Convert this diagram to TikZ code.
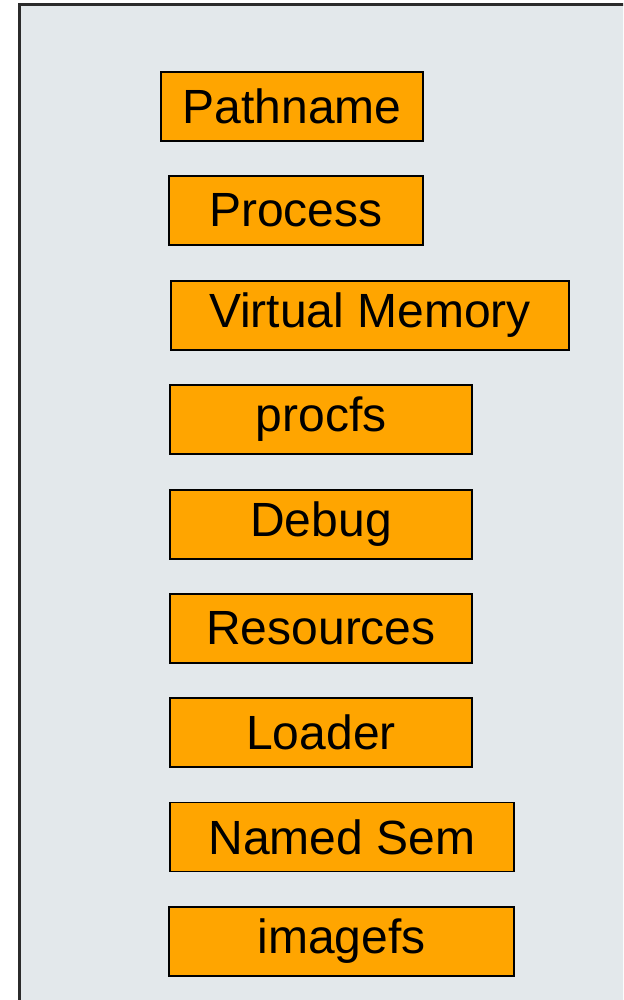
\documentclass[tikz,border=0pt]{standalone}
\usepackage{fontspec}
\setmainfont{Liberation Sans}
\definecolor{panel}{HTML}{E3E8EB}
\definecolor{frameline}{HTML}{2B2B2B}
\definecolor{boxfill}{HTML}{FFA500}
\tikzset{
  module/.style={draw=black, line width=1.6pt, fill=boxfill, inner sep=0pt,
    minimum height=69pt, font=\fontsize{48}{54}\selectfont},
}
\begin{document}
\begin{tikzpicture}[x=1pt,y=-1pt]
  \useasboundingbox (0,0) rectangle (623,1000);
  % background panel, clipped at the right and bottom edges
  \begin{scope}
    \clip (0,0) rectangle (623,1000);
    \draw[frameline, line width=3pt, fill=panel] (19,5) rectangle (640,1020);
  \end{scope}
  % module boxes
  \node[module, minimum width=262pt] (pathname) at (292,106.5) {Pathname};
  \node[module, minimum width=254pt] (process) at (296,210.5) {Process};
  \node[module, minimum width=398pt] (vm) at (370,315.5) {Virtual Memory};
  \node[module, minimum width=302pt] (procfs) at (321,419.5) {procfs};
  \node[module, minimum width=302pt] (debug) at (321,524.5) {Debug};
  \node[module, minimum width=302pt] (resources) at (321,628.5) {Resources};
  \node[module, minimum width=302pt] (loader) at (321,732.5) {Loader};
  \node[module, minimum width=344pt] (namedsem) at (342,837) {Named Sem};
  \node[module, minimum width=345pt] (imagefs) at (341.5,941.5) {imagefs};
\end{tikzpicture}
\end{document}
